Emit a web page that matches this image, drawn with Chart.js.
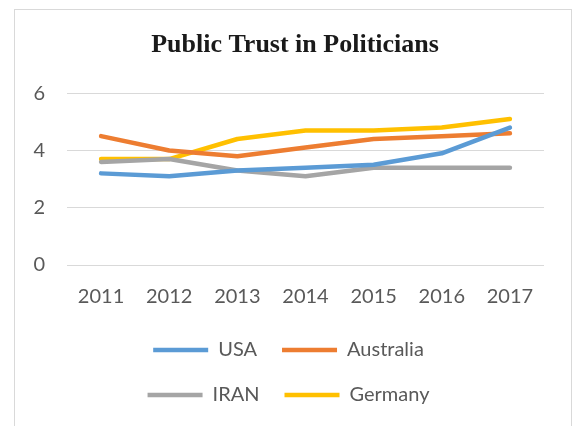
<!DOCTYPE html>
<html>
<head>
<meta charset="utf-8">
<script src="https://cdn.jsdelivr.net/npm/chart.js@4/dist/chart.umd.min.js"></script>
<style>
  html, body { margin: 0; padding: 0; background: #ffffff; }
  #wrap { position: relative; width: 573px; height: 426px; overflow: hidden; }
  #frame { position: absolute; left: 14px; top: 9px; width: 558px; height: 440px; border: 1.5px solid #d9d9d9; box-sizing: border-box; }
  canvas { position: absolute; left: 0; top: 0; }
</style>
</head>
<body>
<div id="wrap">
  <div id="frame"></div>
  <canvas id="c" width="573" height="426"></canvas>
</div>
<script>
const categories = ['2011', '2012', '2013', '2014', '2015', '2016', '2017'];
const usa       = [3.2, 3.1, 3.3, 3.4, 3.5, 3.9, 4.8];
const australia = [4.5, 4.0, 3.8, 4.1, 4.4, 4.5, 4.6];
const iran      = [3.6, 3.7, 3.3, 3.1, 3.4, 3.4, 3.4];
const germany   = [3.7, 3.7, 4.4, 4.7, 4.7, 4.8, 5.1];
const yTicks    = [0, 2, 4, 6];

const seriesNames  = ['USA', 'Australia', 'IRAN', 'Germany'];
const seriesColors = ['#5b9bd5', '#ed7d31', '#a5a5a5', '#ffc000'];
const seriesData   = [usa, australia, iran, germany];

const legendTwoPerRow = {
  id: 'legendTwoPerRow',
  afterInit(chart) {
    const lg = chart.legend;
    if (!lg || lg._wrapped) return;
    const orig = lg._fitRows;
    lg._fitRows = function (...args) {
      const mw = this.maxWidth;
      this.maxWidth = 340;
      const r = orig.apply(this, args);
      this.maxWidth = mw;
      return r;
    };
    lg._wrapped = true;
  },
  afterLayout(chart) {
    const t = chart.titleBlock;
    if (t) { t.left += 15.5; t.right += 15.5; }
    const lg = chart.legend;
    if (lg) { lg.left += 9; lg.right += 9; }
  }
};

new Chart(document.getElementById('c'), {
  type: 'line',
  data: {
    labels: categories,
    datasets: seriesData.map((d, i) => ({
      label: seriesNames[i],
      data: d,
      borderColor: seriesColors[i],
      backgroundColor: seriesColors[i],
      borderWidth: 4.5,
      borderCapStyle: 'round',
      borderJoinStyle: 'round',
      pointRadius: 0,
      pointHoverRadius: 0,
      tension: 0,
      fill: false
    }))
  },
  plugins: [legendTwoPerRow],
  options: {
    responsive: false,
    animation: false,
    devicePixelRatio: 1,
    layout: { padding: { left: 15, right: 29, top: 0, bottom: 11 } },
    plugins: {
      title: {
        display: true,
        text: 'Public Trust in Politicians',
        color: '#1a1a1a',
        font: { family: '"Liberation Serif", "Times New Roman", serif', size: 26, weight: 'bold', lineHeight: 1.2 },
        padding: { top: 30, bottom: 32 }
      },
      legend: {
        display: true,
        position: 'bottom',
        labels: {
          usePointStyle: true,
          pointStyle: 'line',
          pointStyleWidth: 55,
          color: '#595959',
          font: { family: 'Lato, "Open Sans", sans-serif', size: 20 },
          padding: 25
        }
      },
      tooltip: { enabled: false }
    },
    scales: {
      x: {
        offset: true,
        grid: { display: false, drawTicks: false },
        border: { display: false },
        ticks: {
          color: '#595959',
          font: { family: 'Lato, "Open Sans", sans-serif', size: 20 },
          padding: 20,
          maxRotation: 0,
          autoSkip: false
        },
        afterFit(scale) { scale.height = 50; }
      },
      y: {
        min: 0,
        max: 6,
        afterBuildTicks(scale) { scale.ticks = yTicks.map(v => ({ value: v })); },
        grid: { color: '#d9d9d9', lineWidth: 1, drawTicks: false },
        border: { display: false },
        ticks: {
          color: '#595959',
          font: { family: 'Lato, "Open Sans", sans-serif', size: 20 },
          padding: 22
        },
        afterFit(scale) { scale.width = 52; }
      }
    }
  }
});
</script>
</body>
</html>
